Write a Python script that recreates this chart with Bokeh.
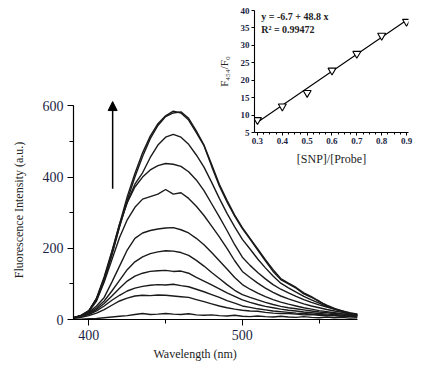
from bokeh.plotting import figure
from bokeh.models import Range1d, SingleIntervalTicker, FixedTicker, Arrow, NormalHead, Label, Title
from bokeh.embed import file_html
from bokeh.resources import INLINE

# ---------------- data: emission spectra ----------------
wavelength = [390, 395, 400, 405, 410, 415, 420, 425, 430, 435, 440, 445, 450, 455, 460,
              465, 470, 475, 480, 485, 490, 495, 500, 505, 510, 515, 520, 525, 530, 535,
              540, 545, 550, 555, 560, 565, 570, 575]

intensity_1 = [0, 1, 2, 3, 5, 7, 9, 11, 14, 17, 14, 15, 17, 15, 14, 16, 13, 12, 13, 11,
               10, 12, 9, 8, 10, 8, 7, 9, 7, 6, 8, 6, 5, 7, 5, 6, 4, 5]
intensity_2 = [3, 6, 11, 18, 28, 40, 52, 60, 66, 68, 67, 69, 68, 66, 64, 62, 56, 50, 44, 38,
               33, 29, 26, 24, 23, 20, 18, 17, 17, 15, 13, 14, 12, 11, 11, 9, 8, 8]
intensity_3 = [4, 8, 14, 24, 38, 54, 68, 80, 88, 93, 96, 98, 97, 99, 95, 92, 85, 78, 70, 62,
               53, 46, 38, 34, 30, 27, 24, 22, 20, 18, 17, 15, 14, 12, 11, 10, 9, 8]
intensity_4 = [4, 9, 16, 28, 45, 66, 88, 108, 122, 130, 135, 137, 138, 135, 136, 130, 118, 108, 97, 86,
               75, 65, 55, 48, 42, 37, 33, 29, 26, 24, 21, 19, 17, 15, 14, 12, 11, 10]
intensity_5 = [5, 10, 18, 32, 52, 80, 110, 140, 162, 176, 185, 190, 193, 192, 188, 180, 166, 150, 132, 115,
               98, 82, 70, 62, 55, 48, 42, 37, 33, 30, 27, 24, 21, 19, 17, 15, 13, 12]
intensity_6 = [5, 10, 20, 38, 62, 105, 150, 195, 228, 243, 250, 254, 257, 258, 252, 243, 228, 210, 188, 165,
               142, 118, 98, 85, 74, 64, 56, 49, 43, 38, 33, 29, 25, 22, 19, 16, 14, 12]
intensity_7 = [5, 11, 22, 52, 105, 168, 230, 280, 315, 338, 345, 352, 365, 352, 356, 340, 318, 292, 262, 232,
               200, 165, 135, 118, 102, 88, 76, 66, 58, 51, 44, 38, 33, 28, 24, 20, 17, 14]
intensity_8 = [5, 11, 23, 60, 120, 192, 268, 328, 372, 400, 420, 432, 438, 436, 430, 415, 392, 362, 325, 288,
               250, 210, 175, 152, 132, 114, 98, 85, 75, 65, 56, 48, 41, 35, 29, 24, 19, 15]
intensity_9 = [5, 12, 24, 58, 115, 185, 262, 330, 380, 412, 455, 490, 512, 520, 512, 492, 462, 428, 385, 340,
               298, 260, 225, 198, 170, 145, 122, 102, 89, 77, 65, 55, 46, 37, 29, 23, 17, 14]
intensity_10 = [4, 10, 24, 55, 110, 180, 260, 335, 400, 458, 508, 545, 570, 580, 583, 565, 530, 490, 435, 380,
                335, 293, 258, 228, 198, 168, 140, 115, 102, 90, 75, 64, 50, 40, 31, 24, 17, 13]
intensity_11 = [4, 11, 25, 58, 115, 188, 268, 345, 410, 468, 515, 550, 572, 585, 580, 560, 525, 488, 430, 375,
                330, 290, 255, 226, 195, 165, 135, 112, 100, 88, 72, 62, 52, 38, 30, 22, 15, 12]

spectra = [intensity_1, intensity_2, intensity_3, intensity_4, intensity_5, intensity_6,
           intensity_7, intensity_8, intensity_9, intensity_10, intensity_11]

# ---------------- data: inset calibration ----------------
ratio = [0.3, 0.4, 0.5, 0.6, 0.7, 0.8, 0.9]
f_ratio = [8.6, 12.5, 16.4, 22.8, 27.6, 32.8, 36.8]
fit_intercept = -6.7
fit_slope = 48.8
fit_x = [0.3, 0.9]
inset_xticks = [0.3, 0.4, 0.5, 0.6, 0.7, 0.8, 0.9]
inset_yticks = [5, 10, 15, 20, 25, 30, 35, 40]

SERIF = "Liberation Serif"
TICK_COLOR = "#1c1f45"
LABEL_COLOR = "#222222"

# ---------------- main figure ----------------
p = figure(width=439, height=368, x_range=Range1d(390, 575), y_range=Range1d(0, 615),
           output_backend="svg", toolbar_location=None,
           min_border_left=73, min_border_right=82, min_border_top=100, min_border_bottom=49)
p.outline_line_color = None
p.grid.visible = False

for s in spectra:
    p.line(wavelength, s, line_color="#1a1a1a", line_width=1.4)

p.xaxis.ticker = SingleIntervalTicker(interval=100, num_minor_ticks=2)
p.yaxis.ticker = SingleIntervalTicker(interval=200, num_minor_ticks=2)
p.xaxis.bounds = (390, 575)
p.yaxis.bounds = (0, 600)
for ax in (p.xaxis[0], p.yaxis[0]):
    ax.axis_line_color = "black"
    ax.axis_line_width = 1.2
    ax.major_tick_line_color = "black"
    ax.minor_tick_line_color = "black"
    ax.major_tick_in = 0
    ax.major_tick_out = 6
    ax.minor_tick_in = 0
    ax.minor_tick_out = 4
    ax.major_label_text_font = SERIF
    ax.major_label_text_font_size = "14px"
    ax.major_label_text_color = TICK_COLOR
    ax.major_label_standoff = 4
    ax.axis_label_text_font = SERIF
    ax.axis_label_text_font_size = "12px"
    ax.axis_label_text_font_style = "normal"
    ax.axis_label_text_color = LABEL_COLOR

p.yaxis.axis_label = "Fluorescence Intensity (a.u.)"
p.yaxis.axis_label_standoff = 14

p.add_layout(Title(text="Wavelength (nm)", align="left", offset=80,
                   text_font=SERIF, text_font_size="12px", text_font_style="normal",
                   text_color=LABEL_COLOR, standoff=4), "below")

p.add_layout(Arrow(end=NormalHead(size=9, fill_color="black", line_color="black"),
                   x_start=415.5, y_start=367, x_end=415.5, y_end=612,
                   line_color="black", line_width=1.5))

# ---------------- inset (same canvas size, overlaid; frame set by borders) ----------------
inset = figure(width=439, height=368, title=None,
               x_range=Range1d(0.288, 0.908), y_range=Range1d(5, 40),
               output_backend="svg", toolbar_location=None,
               min_border_left=254, min_border_right=31, min_border_top=10, min_border_bottom=236)
inset.outline_line_color = None
inset.grid.visible = False
inset.background_fill_alpha = 0
inset.border_fill_alpha = 0
inset.styles = {"position": "absolute", "left": "0px", "top": "0px"}

fit_y = [fit_intercept + fit_slope * x for x in fit_x]
inset.line(fit_x, fit_y, line_color="black", line_width=1.1)
inset.scatter(ratio, f_ratio, marker="inverted_triangle", size=8,
              fill_color="white", line_color="black", line_width=1.1)

inset.xaxis.ticker = FixedTicker(ticks=inset_xticks,
                                 minor_ticks=[round(0.3 + 0.025 * i, 3) for i in range(25)])
inset.yaxis.ticker = FixedTicker(ticks=inset_yticks)
for ax in (inset.xaxis[0], inset.yaxis[0]):
    ax.axis_line_color = "black"
    ax.axis_line_width = 1.1
    ax.major_tick_line_color = "black"
    ax.minor_tick_line_color = "black"
    ax.major_tick_in = 0
    ax.major_tick_out = 3
    ax.minor_tick_in = 0
    ax.minor_tick_out = 2
    ax.major_label_text_font = SERIF
    ax.major_label_text_font_size = "9px"
    ax.major_label_text_font_style = "bold"
    ax.major_label_text_color = TICK_COLOR
    ax.major_label_standoff = 2
    ax.axis_label_text_font = SERIF
    ax.axis_label_text_font_style = "normal"
    ax.axis_label_text_color = LABEL_COLOR

inset.xaxis.axis_label = "[SNP]/[Probe]"
inset.xaxis.axis_label_text_font_size = "12px"
inset.xaxis.axis_label_standoff = 5
inset.yaxis.axis_label = "F₄₅₄/F₀"
inset.yaxis.axis_label_text_font_size = "11px"
inset.yaxis.axis_label_standoff = 8

inset.add_layout(Label(x=0.315, y=39.8, text="y = -6.7 + 48.8 x", text_baseline="top",
                       text_font=SERIF, text_font_size="10px", text_font_style="bold",
                       text_color=LABEL_COLOR))
inset.add_layout(Label(x=0.315, y=36.0, text="R² = 0.99472", text_baseline="top",
                       text_font=SERIF, text_font_size="10px", text_font_style="bold",
                       text_color=LABEL_COLOR))

open("out.html", "w").write(file_html([p, inset], INLINE))
